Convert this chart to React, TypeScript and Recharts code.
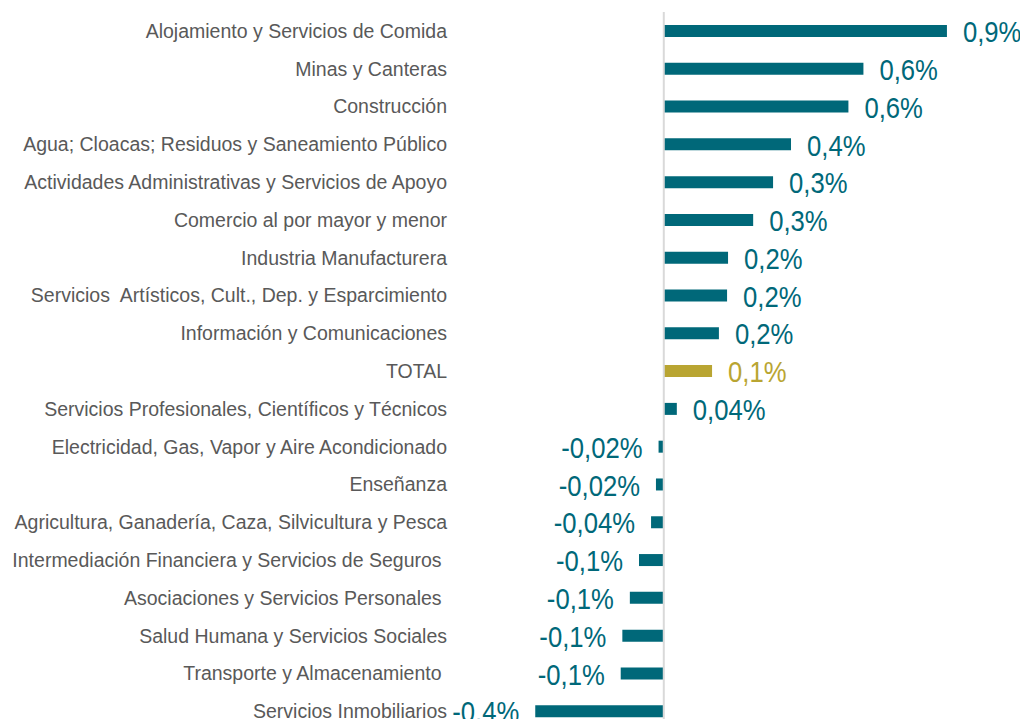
import { BarChart, Bar, XAxis, YAxis, Cell, LabelList, ReferenceLine } from "recharts";

// variación mensual por rama de actividad (%)
const categories = [
  "Alojamiento y Servicios de Comida",
  "Minas y Canteras",
  "Construcción",
  "Agua; Cloacas; Residuos y Saneamiento Público",
  "Actividades Administrativas y Servicios de Apoyo",
  "Comercio al por mayor y menor",
  "Industria Manufacturera",
  "Servicios  Artísticos, Cult., Dep. y Esparcimiento",
  "Información y Comunicaciones",
  "TOTAL",
  "Servicios Profesionales, Científicos y Técnicos",
  "Electricidad, Gas, Vapor y Aire Acondicionado",
  "Enseñanza",
  "Agricultura, Ganadería, Caza, Silvicultura y Pesca",
  "Intermediación Financiera y Servicios de Seguros ",
  "Asociaciones y Servicios Personales ",
  "Salud Humana y Servicios Sociales",
  "Transporte y Almacenamiento ",
  "Servicios Inmobiliarios",
];

const values = [
  0.868, 0.612, 0.566, 0.39, 0.335, 0.274, 0.197, 0.194, 0.169, 0.148, 0.04,
  -0.016, -0.024, -0.039, -0.076, -0.104, -0.127, -0.132, -0.394,
];

const data = categories.map((name, i) => ({ name, value: values[i] }));

const TEAL = "#006879";
const GOLD = "#B9A532";
const FONT = "'Liberation Sans', Arial, sans-serif";

const fmt = (v: number) => {
  const digits = Math.abs(v) < 0.05 ? 2 : 1;
  return v.toFixed(digits).replace(".", ",") + "%";
};

function CategoryTick({ x, y, payload }: any) {
  return (
    <text
      x={x}
      y={y}
      textAnchor="end"
      dominantBaseline="central"
      fontFamily={FONT}
      fontSize={19.5}
      fill="#595959"
      style={{ whiteSpace: "pre" }}
    >
      {payload.value}
    </text>
  );
}

function ValueLabel(props: any) {
  const { x, y, width, height, value, index } = props;
  const left = Math.min(x, x + width);
  const right = Math.max(x, x + width);
  const neg = value < 0;
  const color = categories[index] === "TOTAL" ? GOLD : TEAL;
  const tx = neg ? left - 16 : right + 16;
  const ty = y + height / 2 + 1;
  // condensed look of the original labels
  return (
    <text
      transform={`translate(${tx},${ty}) scale(0.87,1)`}
      x={0}
      y={0}
      textAnchor={neg ? "end" : "start"}
      dominantBaseline="central"
      fontFamily={FONT}
      fontSize={29.5}
      fill={color}
    >
      {fmt(value)}
    </text>
  );
}

export default function App() {
  return (
    <div style={{ width: 1020, height: 719, overflow: "hidden", marginBottom: -8 }}>
      <BarChart
        width={1020}
        height={726}
        data={data}
        layout="vertical"
        margin={{ top: 4, right: 38, left: 0, bottom: 4 }}
        barSize={12}
      >
        <XAxis type="number" domain={[-0.64, 1]} hide allowDataOverflow />
        <YAxis
          type="category"
          dataKey="name"
          width={447}
          axisLine={false}
          tickLine={false}
          tickSize={0}
          tickMargin={8}
          tick={<CategoryTick />}
          interval={0}
        />
        <Bar dataKey="value" isAnimationActive={false}>
          {data.map((d) => (
            <Cell key={d.name} fill={d.name === "TOTAL" ? GOLD : TEAL} />
          ))}
          <LabelList dataKey="value" content={<ValueLabel />} />
        </Bar>
        <ReferenceLine x={0} stroke="#d9d9d9" strokeWidth={2} />
      </BarChart>
    </div>
  );
}
